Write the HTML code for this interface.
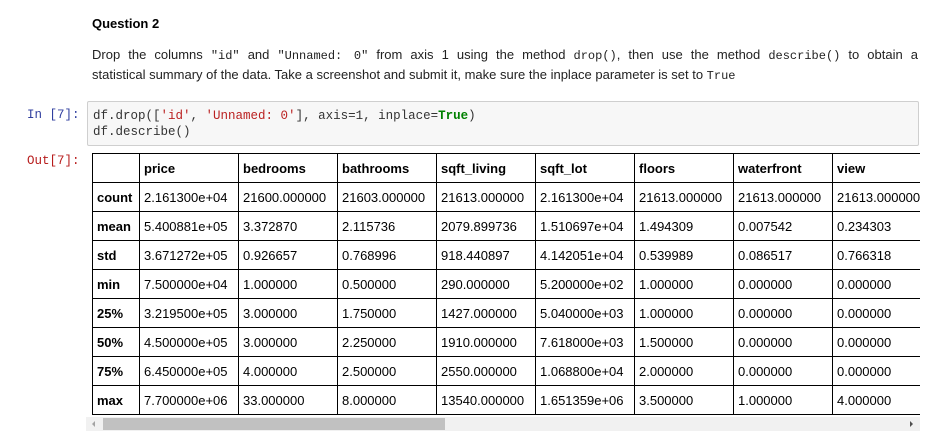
<!DOCTYPE html>
<html><head><style>
body{margin:0;width:952px;height:446px;background:#fff;position:relative;overflow:hidden;font-family:"Liberation Sans",Arial,sans-serif;color:#000}
.a{position:absolute}
.m{font-family:"Liberation Mono",monospace}
.q{left:92px;top:16px;font-size:13px;font-weight:bold}
.para{left:92px;width:826px;font-size:13px;line-height:20px;color:#222;white-space:nowrap}
.j{text-align:justify;text-align-last:justify}
.para code{font-family:"Liberation Mono",monospace;font-size:12px}
.code{left:87px;top:101px;width:832px;height:45px;background:#f7f7f7;border:1px solid #cfcfcf;border-radius:2px;box-sizing:border-box;padding:6px 5px;font-size:12.5px;line-height:16px;color:#333;white-space:pre}
.wrap{left:92px;top:153px;width:828px;height:262px;overflow:hidden}
table{border-collapse:collapse;font-size:13px;table-layout:fixed;width:839px}
td,th{border:1px solid #000;height:29px;padding:0 4px;text-align:left;white-space:nowrap;overflow:hidden;box-sizing:border-box}
th{font-weight:bold}
</style></head><body>
<div class="a q">Question 2</div>
<div class="a para j" style="top:45px;white-space:normal">Drop the columns <code>"id"</code> and <code>"Unnamed: 0"</code> from axis 1 using the method <code>drop()</code>, then use the method <code>describe()</code> to obtain a</div>
<div class="a para" style="top:65px">statistical summary of the data. Take a screenshot and submit it, make sure the inplace parameter is set to <code>True</code></div>
<div class="a m" style="left:27px;top:108px;font-size:12.5px;color:#303f9f">In [7]:</div>
<div class="a m code">df.drop([<span style="color:#ba2121">'id'</span>, <span style="color:#ba2121">'Unnamed: 0'</span>], axis=1, inplace=<span style="color:#008000;font-weight:bold">True</span>)
df.describe()</div>
<div class="a m" style="left:27px;top:154px;font-size:12.5px;color:#b71c1c">Out[7]:</div>
<div class="a wrap"><table>
<colgroup><col style="width:47px"><col style="width:99px"><col style="width:99px"><col style="width:99px"><col style="width:99px"><col style="width:99px"><col style="width:99px"><col style="width:99px"><col style="width:99px"></colgroup>
<tr><th></th><th>price</th><th>bedrooms</th><th>bathrooms</th><th>sqft_living</th><th>sqft_lot</th><th>floors</th><th>waterfront</th><th>view</th></tr>
<tr><th>count</th><td>2.161300e+04</td><td>21600.000000</td><td>21603.000000</td><td>21613.000000</td><td>2.161300e+04</td><td>21613.000000</td><td>21613.000000</td><td>21613.000000</td></tr>
<tr><th>mean</th><td>5.400881e+05</td><td>3.372870</td><td>2.115736</td><td>2079.899736</td><td>1.510697e+04</td><td>1.494309</td><td>0.007542</td><td>0.234303</td></tr>
<tr><th>std</th><td>3.671272e+05</td><td>0.926657</td><td>0.768996</td><td>918.440897</td><td>4.142051e+04</td><td>0.539989</td><td>0.086517</td><td>0.766318</td></tr>
<tr><th>min</th><td>7.500000e+04</td><td>1.000000</td><td>0.500000</td><td>290.000000</td><td>5.200000e+02</td><td>1.000000</td><td>0.000000</td><td>0.000000</td></tr>
<tr><th>25%</th><td>3.219500e+05</td><td>3.000000</td><td>1.750000</td><td>1427.000000</td><td>5.040000e+03</td><td>1.000000</td><td>0.000000</td><td>0.000000</td></tr>
<tr><th>50%</th><td>4.500000e+05</td><td>3.000000</td><td>2.250000</td><td>1910.000000</td><td>7.618000e+03</td><td>1.500000</td><td>0.000000</td><td>0.000000</td></tr>
<tr><th>75%</th><td>6.450000e+05</td><td>4.000000</td><td>2.500000</td><td>2550.000000</td><td>1.068800e+04</td><td>2.000000</td><td>0.000000</td><td>0.000000</td></tr>
<tr><th>max</th><td>7.700000e+06</td><td>33.000000</td><td>8.000000</td><td>13540.000000</td><td>1.651359e+06</td><td>3.500000</td><td>1.000000</td><td>4.000000</td></tr>
</table></div>
<div class="a" style="left:86px;top:417px;width:834px;height:14px;background:#f1f1f1"></div>
<div class="a" style="left:103px;top:418px;width:342px;height:12px;background:#c1c1c1"></div>
<div class="a" style="left:92px;top:421px;width:0;height:0;border-top:3px solid transparent;border-bottom:3px solid transparent;border-right:3px solid #a3a3a3"></div>
<div class="a" style="left:910px;top:421px;width:0;height:0;border-top:3px solid transparent;border-bottom:3px solid transparent;border-left:3px solid #505050"></div>
</body></html>
